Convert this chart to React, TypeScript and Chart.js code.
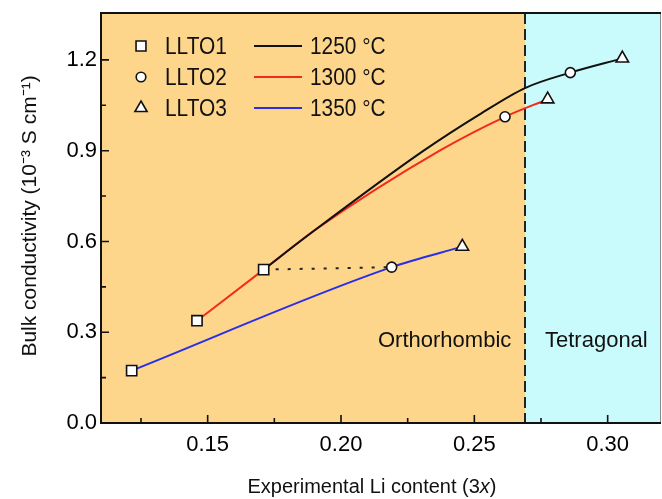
import React, { useEffect, useRef } from 'react';
import { Chart, registerables } from 'chart.js';
Chart.register(...registerables);

// ---- data ----
const xTickValues = [0.15, 0.2, 0.25, 0.3];
const xMinorTickValues = [0.125, 0.175, 0.225, 0.275];
const yTickValues = [0.0, 0.3, 0.6, 0.9, 1.2];
const yMinorTickValues = [0.15, 0.45, 0.75, 1.05];

const llto1X = [0.1215, 0.146, 0.171];
const llto1Y = [0.173, 0.338, 0.507];
const llto2X = [0.219, 0.2615, 0.286];
const llto2Y = [0.515, 1.012, 1.158];
const llto3X = [0.2455, 0.2775, 0.3055];
const llto3Y = [0.583, 1.07, 1.205];

const line1250X = [0.171, 0.19, 0.231, 0.252, 0.269, 0.286, 0.3055];
const line1250Y = [0.507, 0.636, 0.9, 1.02, 1.107, 1.158, 1.205];
const line1300X = [0.146, 0.171, 0.19, 0.237, 0.2615, 0.2775];
const line1300Y = [0.338, 0.507, 0.636, 0.9, 1.012, 1.07];
const line1350X = [0.1215, 0.219, 0.2455];
const line1350Y = [0.173, 0.515, 0.583];
const dottedX = [0.171, 0.219];
const dottedY = [0.507, 0.515];

const phaseBoundary = 0.269;
const xMin = 0.11;
const xMax = 0.32;
const yMin = 0;
const yMax = 1.355;

const sampleNames = ['LLTO1', 'LLTO2', 'LLTO3'];
const tempNames = ['1250 °C', '1300 °C', '1350 °C'];

const pts = (xs: number[], ys: number[]) => xs.map((x, i) => ({ x, y: ys[i] }));

const FONT = "'Liberation Sans', Arial, sans-serif";
const ORANGE = '#fdd58b';
const CYAN = '#c9fbfd';
const BLACK = '#111111';
const RED = '#f42a1c';
const BLUE = '#2a2ee6';

function condensedText(ctx: any, text: string, x: number, y: number, sx: number) {
  ctx.save();
  ctx.translate(x, y);
  ctx.scale(sx, 1);
  ctx.fillText(text, 0, 0);
  ctx.restore();
}

const decorPlugin = {
  id: 'decor',
  beforeDatasetsDraw(chart: any) {
    const { ctx, chartArea: a, scales } = chart;
    const xs = scales.x;
    const bx = xs.getPixelForValue(phaseBoundary);
    ctx.save();
    ctx.fillStyle = ORANGE;
    ctx.fillRect(a.left, a.top, bx - a.left, a.bottom - a.top);
    ctx.fillStyle = CYAN;
    ctx.fillRect(bx, a.top, a.right - bx, a.bottom - a.top);
    ctx.strokeStyle = '#222';
    ctx.lineWidth = 2;
    ctx.setLineDash([11, 5]);
    ctx.beginPath();
    ctx.moveTo(bx, a.top);
    ctx.lineTo(bx, a.bottom);
    ctx.stroke();
    ctx.restore();
  },
  afterDraw(chart: any) {
    const { ctx, chartArea: a, scales } = chart;
    const xs = scales.x;
    const ys = scales.y;
    ctx.save();
    // frame
    ctx.strokeStyle = '#8a8a8a';
    ctx.lineWidth = 1;
    ctx.beginPath();
    ctx.moveTo(a.right - 0.5, a.top);
    ctx.lineTo(a.right - 0.5, a.bottom);
    ctx.stroke();
    ctx.strokeStyle = BLACK;
    ctx.lineWidth = 2;
    ctx.beginPath();
    ctx.moveTo(a.right, a.top);
    ctx.lineTo(a.left, a.top);
    ctx.lineTo(a.left, a.bottom);
    ctx.lineTo(a.right, a.bottom);
    ctx.stroke();
    // ticks (inward)
    ctx.lineWidth = 1.6;
    ctx.beginPath();
    xTickValues.forEach((v) => {
      const p = xs.getPixelForValue(v);
      ctx.moveTo(p, a.bottom);
      ctx.lineTo(p, a.bottom - 8);
    });
    xMinorTickValues.forEach((v) => {
      const p = xs.getPixelForValue(v);
      ctx.moveTo(p, a.bottom);
      ctx.lineTo(p, a.bottom - 5);
    });
    yTickValues.forEach((v) => {
      const p = ys.getPixelForValue(v);
      ctx.moveTo(a.left, p);
      ctx.lineTo(a.left + 8, p);
    });
    yMinorTickValues.forEach((v) => {
      const p = ys.getPixelForValue(v);
      ctx.moveTo(a.left, p);
      ctx.lineTo(a.left + 5, p);
    });
    ctx.stroke();

    // legend
    ctx.fillStyle = BLACK;
    ctx.textBaseline = 'middle';
    ctx.textAlign = 'left';
    const rows = [46, 77, 108];
    const lineColors = [BLACK, RED, BLUE];
    rows.forEach((ry, i) => {
      ctx.font = `24px ${FONT}`;
      ctx.fillStyle = BLACK;
      condensedText(ctx, sampleNames[i], 165, ry + 1, 0.87);
      ctx.strokeStyle = lineColors[i];
      ctx.lineWidth = 2;
      ctx.beginPath();
      ctx.moveTo(254, ry);
      ctx.lineTo(302, ry);
      ctx.stroke();
      condensedText(ctx, tempNames[i], 310, ry + 1, 0.87);
    });
    // phase labels
    ctx.font = `22px ${FONT}`;
    ctx.fillText('Orthorhombic', 378, 341);
    ctx.fillText('Tetragonal', 545, 341);

    // axis titles
    const fs = 20;
    ctx.font = `${fs}px ${FONT}`;
    ctx.textAlign = 'left';
    const t1 = 'Experimental Li content (3';
    const t2 = 'x';
    const t3 = ')';
    const w1 = ctx.measureText(t1).width;
    ctx.font = `italic ${fs}px ${FONT}`;
    const w2 = ctx.measureText(t2).width;
    ctx.font = `${fs}px ${FONT}`;
    const w3 = ctx.measureText(t3).width;
    const tot = w1 + w2 + w3;
    const sx = 372 - tot / 2;
    const ty = 487;
    ctx.fillText(t1, sx, ty);
    ctx.font = `italic ${fs}px ${FONT}`;
    ctx.fillText(t2, sx + w1, ty);
    ctx.font = `${fs}px ${FONT}`;
    ctx.fillText(t3, sx + w1 + w2, ty);

    ctx.font = `21px ${FONT}`;
    ctx.translate(30, 216);
    ctx.rotate(-Math.PI / 2);
    ctx.textAlign = 'center';
    ctx.fillText('Bulk conductivity (10\u207B\u00B3 S cm\u207B\u00B9)', 0, 0);
    ctx.restore();
  },
};

const legendMarkerPlugin = {
  id: 'legendMarkers',
  afterDraw(chart: any) {
    const { ctx } = chart;
    const rows = [46, 77, 108];
    const styles = ['rect', 'circle', 'triangle'];
    const radii = [7, 4.8, 7];
    ctx.save();
    rows.forEach((ry, i) => {
      ctx.fillStyle = '#ffffff';
      ctx.strokeStyle = BLACK;
      ctx.lineWidth = 1.6;
      ctx.beginPath();
      if (styles[i] === 'rect') {
        const s = radii[i] * Math.SQRT1_2;
        ctx.rect(141 - s, ry - s, 2 * s, 2 * s);
      } else if (styles[i] === 'circle') {
        ctx.arc(141, ry, radii[i], 0, Math.PI * 2);
      } else {
        const r = radii[i];
        ctx.moveTo(141, ry - r);
        ctx.lineTo(141 + r * Math.cos(Math.PI / 6), ry + r * 0.5);
        ctx.lineTo(141 - r * Math.cos(Math.PI / 6), ry + r * 0.5);
        ctx.closePath();
      }
      ctx.fill();
      ctx.stroke();
    });
    ctx.restore();
  },
};

export default function App() {
  const ref = useRef<HTMLCanvasElement | null>(null);
  useEffect(() => {
    if (!ref.current) return;
    const markerCommon = {
      showLine: false,
      backgroundColor: '#ffffff',
      borderColor: BLACK,
      borderWidth: 1.6,
      pointBorderWidth: 1.6,
    };
    const lineCommon = {
      showLine: true,
      pointRadius: 0,
      pointHoverRadius: 0,
      borderWidth: 2,
      fill: false,
      cubicInterpolationMode: 'monotone' as const,
    };
    const chart = new Chart(ref.current, {
      type: 'scatter',
      data: {
        datasets: [
          { label: sampleNames[0], data: pts(llto1X, llto1Y), pointStyle: 'rect', pointRadius: 7.2, ...markerCommon },
          { label: sampleNames[1], data: pts(llto2X, llto2Y), pointStyle: 'circle', pointRadius: 5, ...markerCommon },
          { label: sampleNames[2], data: pts(llto3X, llto3Y), pointStyle: 'triangle', pointRadius: 7.2, ...markerCommon },
          { label: tempNames[0], data: pts(line1250X, line1250Y), borderColor: BLACK, ...lineCommon },
          { label: tempNames[1], data: pts(line1300X, line1300Y), borderColor: RED, ...lineCommon },
          { label: tempNames[2], data: pts(line1350X, line1350Y), borderColor: BLUE, ...lineCommon },
          { label: 'dotted', data: pts(dottedX, dottedY), borderColor: '#222', borderDash: [3, 9], ...lineCommon },
        ] as any,
      },
      options: {
        responsive: false,
        animation: false,
        layout: { autoPadding: false, padding: { top: 13, right: 1, left: 0, bottom: 0 } },
        plugins: { legend: { display: false }, tooltip: { enabled: false } },
        scales: {
          x: {
            type: 'linear',
            min: xMin,
            max: xMax,
            grid: { display: false, drawTicks: false },
            border: { display: false },
            afterBuildTicks: (s: any) => {
              s.ticks = xTickValues.map((v) => ({ value: v }));
            },
            afterFit: (s: any) => {
              s.height = 76;
              s.paddingLeft = 0;
              s.paddingRight = 0;
            },
            ticks: {
              padding: 9,
              color: '#000',
              font: { family: FONT, size: 22 },
              maxRotation: 0,
              callback: (v: any) => Number(v).toFixed(2),
            },
          },
          y: {
            type: 'linear',
            min: yMin,
            max: yMax,
            grid: { display: false, drawTicks: false },
            border: { display: false },
            afterBuildTicks: (s: any) => {
              s.ticks = yTickValues.map((v) => ({ value: v }));
            },
            afterFit: (s: any) => {
              s.width = 101;
              s.paddingTop = 0;
              s.paddingBottom = 0;
            },
            ticks: {
              padding: 4,
              color: '#000',
              font: { family: FONT, size: 22 },
              callback: (v: any) => Number(v).toFixed(1),
            },
          },
        },
      },
      plugins: [decorPlugin, legendMarkerPlugin],
    });
    return () => chart.destroy();
  }, []);
  return (
    <div style={{ position: 'fixed', left: 0, top: 0, width: 662, height: 499, background: '#fff' }}>
      <canvas ref={ref} width={662} height={499} style={{ display: 'block' }} />
    </div>
  );
}
